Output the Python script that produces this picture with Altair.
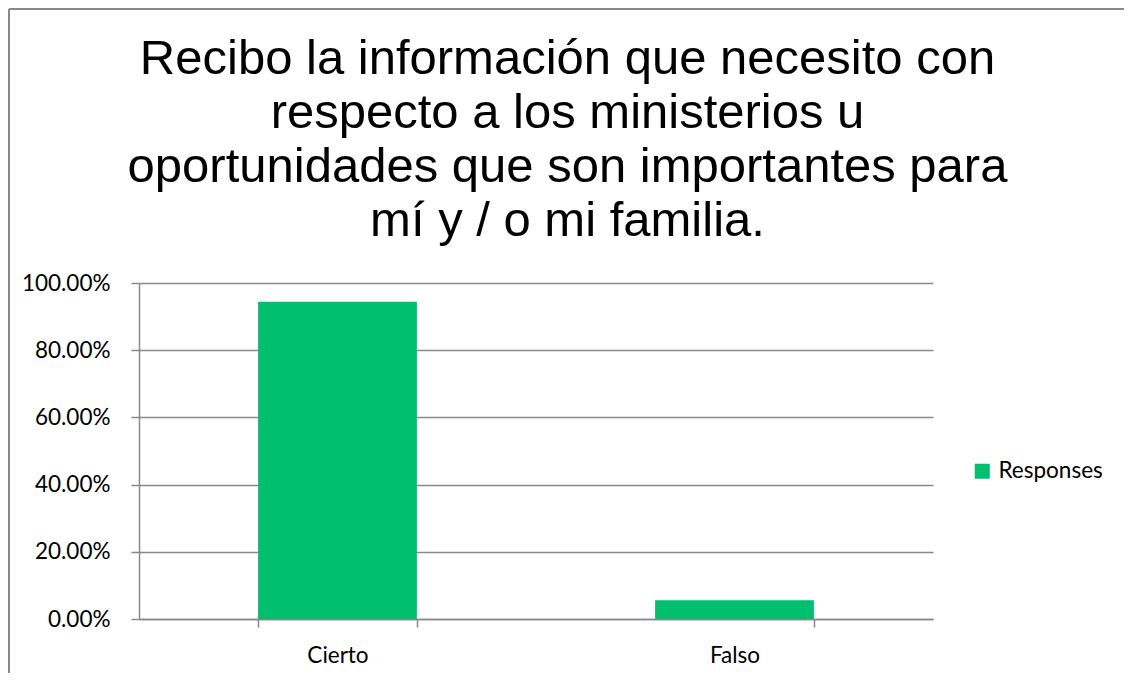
import altair as alt
import pandas as pd

# ---- data ----
categories = ["Cierto", "Falso"]
values = [0.9444, 0.0556]
series = ["Responses", "Responses"]
y_ticks = [0, 0.2, 0.4, 0.6, 0.8, 1.0]
title_lines = [
    "Recibo la información que necesito con",
    "respecto a los ministerios u",
    "oportunidades que son importantes para",
    "mí y / o mi familia.",
]

df = pd.DataFrame({"cat": categories, "val": values, "series": series})

GREEN = "#00BF6F"
GREY = "#898989"
LABEL_FONT = "Lato"
LABEL_SIZE = 22.5

W, H = 794, 336

bars = alt.Chart(df).mark_bar().encode(
    x=alt.X(
        "cat:N",
        sort=categories,
        scale=alt.Scale(paddingInner=0.6, paddingOuter=0.3),
        axis=alt.Axis(
            title=None, labelAngle=0, tickBand="extent", ticks=True, tickSize=8,
            tickColor=GREY, tickWidth=1.5, domainColor=GREY, domainWidth=1.5,
            grid=False, labelFont=LABEL_FONT, labelFontSize=LABEL_SIZE,
            labelColor="black", labelPadding=17,
        ),
    ),
    y=alt.Y(
        "val:Q",
        scale=alt.Scale(domain=[0, 1]),
        axis=alt.Axis(
            title=None, format=".2%", values=y_ticks, tickSize=8,
            tickColor=GREY, tickWidth=1.5, domainColor=GREY, domainWidth=1.5,
            grid=True, gridColor=GREY, gridWidth=1.5,
            labelFont=LABEL_FONT, labelFontSize=LABEL_SIZE, labelColor="black",
            labelPadding=21,
        ),
    ),
    color=alt.Color(
        "series:N",
        scale=alt.Scale(range=[GREEN]),
        legend=alt.Legend(
            title=None, orient="none", legendX=832, legendY=177, padding=0,
            symbolType="square", symbolSize=225, symbolStrokeWidth=0,
            labelFont=LABEL_FONT, labelFontSize=LABEL_SIZE, labelColor="black",
            labelOffset=5,
        ),
    ),
)

deco = alt.Chart(pd.DataFrame({"k": [0]}))

top_border = deco.mark_rule(color=GREY, strokeWidth=2).encode(
    x=alt.value(-130), x2=alt.value(985), y=alt.value(-274)
)
left_border = deco.mark_rule(color=GREY, strokeWidth=2).encode(
    x=alt.value(-130), y=alt.value(-274), y2=alt.value(390)
)

title = deco.mark_text(
    text=title_lines, font="Liberation Sans", fontSize=49, lineHeight=54,
    align="center", baseline="alphabetic", color="black",
).encode(x=alt.value(428.5), y=alt.value(-209))

chart = alt.layer(bars, top_border, left_border, title).properties(
    width=W, height=H,
    padding=0,
).configure_view(stroke=None)

chart.save("out.html", embed_options={"renderer": "svg", "actions": False})
